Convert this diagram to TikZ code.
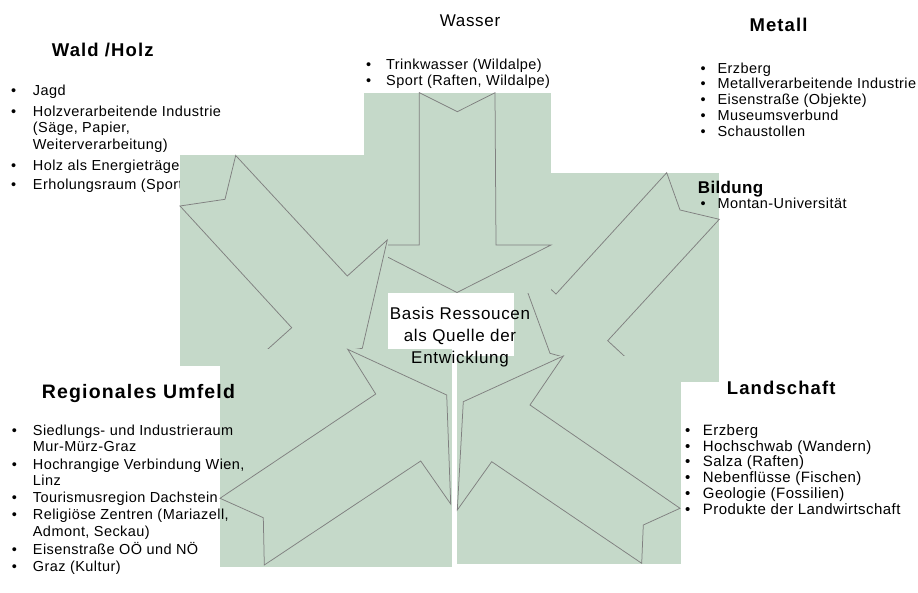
\documentclass[tikz,border=0pt]{standalone}
\usepackage{fontspec}
\setmainfont{Liberation Sans}
\newfontfamily\bodyf[LetterSpace=3]{Liberation Sans}
\newfontfamily\headf[LetterSpace=6]{Liberation Sans}
\newfontfamily\basisf[LetterSpace=4]{Liberation Sans}
\newfontfamily\bildf[LetterSpace=2]{Liberation Sans}
\definecolor{boxgreen}{RGB}{197,217,201}
\definecolor{edgegray}{RGB}{128,128,128}
\newcommand\bulw[1]{\makebox[#1][l]{•}}
\tikzset{
  greenbox/.style={fill=boxgreen},
  arrowline/.style={draw=edgegray, line width=0.75pt, line join=miter},
  body/.style={font=\bodyf\fontsize{14.5}{16}\selectfont, inner sep=0pt, anchor=base west},
  bodyl/.style={font=\bodyf\fontsize{15}{16}\selectfont, inner sep=0pt, anchor=base west},
  head/.style={font=\headf\bfseries\fontsize{18.5}{21}\selectfont, inner sep=0pt, anchor=base west},
  headbig/.style={font=\headf\bfseries\fontsize{19.5}{22}\selectfont, inner sep=0pt, anchor=base west},
  bildhead/.style={font=\bildf\bfseries\fontsize{17}{20}\selectfont, inner sep=0pt, anchor=base west},
  basis/.style={font=\basisf\fontsize{17}{20}\selectfont, inner sep=0pt, anchor=base},
}
\begin{document}
\begin{tikzpicture}[x=1pt,y=-1pt]
\useasboundingbox (0,0) rectangle (918,593);
\fill[white] (0,0) rectangle (918,593);

% Wald / Holz text (lies beneath the Wald box)
\node[head] (waldt) at (51.7,56.7) {Wald /Holz};
\node[body] (w1) at (10.9,95.7) {\bulw{21.8pt}Jagd};
\node[body] (w2) at (10.9,116.2) {\bulw{21.8pt}Holzverarbeitende Industrie};
\node[body] (w3) at (32.7,133) {(Säge, Papier,};
\node[body] (w4) at (32.7,150) {Weiterverarbeitung)};
\node[body] (w5) at (10.9,171) {\bulw{21.8pt}Holz als Energieträger};
\node[body] (w6) at (10.9,190) {\bulw{21.8pt}Erholungsraum (Sport)};

% upper right arrow (Metall / Bildung)
\fill[greenbox] (514,172.7) rectangle (719.3,381.7);
\draw[arrowline] (666.7,172.7) -- (680,210) -- (719.3,219.3) -- (607.7,340.7)
  -- (652,381.7) -- (550,353.3) -- (514,255) -- (556,294) -- cycle;

% Wasser arrow
\fill[greenbox] (364,92.7) rectangle (551,293.5);
\draw[arrowline] (419.3,92.7) -- (457.3,111.7) -- (495,92.7) -- (496,245)
  -- (551,245) -- (457,292.5) -- (364,245) -- (419.3,245) -- cycle;

% Wald arrow
\fill[greenbox] (180,155.5) rectangle (388,366);
\draw[arrowline] (235.7,155.5) -- (225,199.3) -- (180,206) -- (291.7,327.7)
  -- (249,366) -- (362.3,348.3) -- (387.3,240) -- (347.3,276) -- cycle;

% Regionales Umfeld arrow
\fill[greenbox] (220,349.3) rectangle (451.7,566.7);
\draw[arrowline] (347.7,349.3) -- (446.7,395) -- (450.7,504) -- (420.7,461)
  -- (264.3,565) -- (263.3,517.7) -- (220,498.3) -- (375.7,394) -- cycle;

% Landschaft arrow
\fill[greenbox] (457.3,356) rectangle (680.5,563.5);
\draw[arrowline] (563.3,356) -- (463.3,401.7) -- (457.3,510) -- (491.7,461.7)
  -- (641.7,563.3) -- (643.3,525) -- (680,508.3) -- (530,405) -- cycle;

% Wasser text
\node[basis] (wast) at (470,27) {Wasser};
\node[body] (s1) at (365.9,69.5) {\bulw{20.1pt}Trinkwasser (Wildalpe)};
\node[body] (s2) at (365.9,86) {\bulw{20.1pt}Sport (Raften, Wildalpe)};

% Metall text
\node[head] (mett) at (749.3,31.7) {Metall};
\node[body] (m1) at (700.3,73.3) {\bulw{17pt}Erzberg};
\node[body] (m2) at (700.3,89) {\bulw{17pt}Metallverarbeitende Industrie};
\node[body] (m3) at (700.3,104.7) {\bulw{17pt}Eisenstraße (Objekte)};
\node[body] (m4) at (700.3,120.7) {\bulw{17pt}Museumsverbund};
\node[body] (m5) at (700.3,136.3) {\bulw{17pt}Schaustollen};

% Bildung text
\node[bildhead] (bildt) at (697.7,193.3) {Bildung};
\node[body] (b1) at (700.3,209) {\bulw{17pt}Montan-Universität};

% centre text
\node[basis] (c1) at (460,320) {Basis Ressoucen};
\node[basis] (c2) at (460,341.5) {als Quelle der};
\node[basis] (c3) at (460,363.3) {Entwicklung};

% Regionales Umfeld text
\node[headbig] (regt) at (41.7,398.5) {Regionales Umfeld};
\node[body] (r1) at (11.6,435.7) {\bulw{21.1pt}Siedlungs- und Industrieraum};
\node[body] (r2) at (32.7,451.3) {Mur-Mürz-Graz};
\node[body] (r3) at (11.6,469.7) {\bulw{21.1pt}Hochrangige Verbindung Wien,};
\node[body] (r4) at (32.7,485.7) {Linz};
\node[body] (r5) at (11.6,502.3) {\bulw{21.1pt}Tourismusregion Dachstein};
\node[body] (r6) at (11.6,519.7) {\bulw{21.1pt}Religiöse Zentren (Mariazell,};
\node[body] (r7) at (32.7,536.3) {Admont, Seckau)};
\node[body] (r8) at (11.6,554) {\bulw{21.1pt}Eisenstraße OÖ und NÖ};
\node[body] (r9) at (11.6,571.3) {\bulw{21.1pt}Graz (Kultur)};

% Landschaft text
\node[head] (lant) at (726.7,394.3) {Landschaft};
\node[bodyl] (l1) at (684.9,435) {\bulw{17.8pt}Erzberg};
\node[bodyl] (l2) at (684.9,451.3) {\bulw{17.8pt}Hochschwab (Wandern)};
\node[bodyl] (l3) at (684.9,466.7) {\bulw{17.8pt}Salza (Raften)};
\node[bodyl] (l4) at (684.9,482.3) {\bulw{17.8pt}Nebenflüsse (Fischen)};
\node[bodyl] (l5) at (684.9,498) {\bulw{17.8pt}Geologie (Fossilien)};
\node[bodyl] (l6) at (684.9,514) {\bulw{17.8pt}Produkte der Landwirtschaft};
\end{tikzpicture}
\end{document}
